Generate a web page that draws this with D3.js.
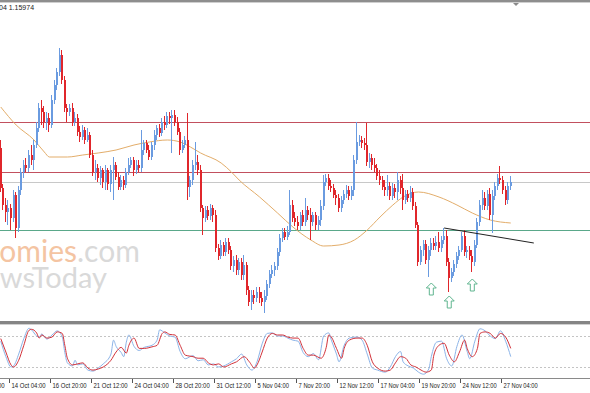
<!DOCTYPE html>
<html>
<head>
<meta charset="utf-8">
<script src="https://cdn.jsdelivr.net/npm/d3@7/dist/d3.min.js"></script>
<style>
  body { margin: 0; background: #fff; }
  svg { display: block; }
</style>
</head>
<body>
<svg id="chart" width="590" height="393"></svg>
<script>
// H4 candles, oldest first
var opens = [
1.1631,1.1591,1.1574,1.1567,1.1571,1.1561,1.1584,1.1551,1.1589,1.1607,
1.1614,1.1611,1.1624,1.1619,1.1634,1.1651,1.1671,1.1667,1.1657,1.1661,
1.1654,1.1679,1.1694,1.1707,1.1724,1.1699,1.1671,1.1667,1.1671,1.1657,
1.1661,1.1647,1.1642,1.1649,1.1639,1.1644,1.1624,1.1607,1.1611,1.1601,
1.1609,1.1597,1.1609,1.1595,1.1609,1.1614,1.1602,1.1592,1.1599,1.1594,
1.1607,1.1614,1.1619,1.1609,1.1614,1.1611,1.1629,1.1636,1.1629,1.1622,
1.1634,1.1644,1.1651,1.1646,1.1657,1.1654,1.1663,1.1661,1.1664,1.1657,
1.1647,1.1629,1.1634,1.1639,1.1592,1.1599,1.1614,1.1617,1.1609,1.1571,
1.1561,1.1569,1.1563,1.1571,1.1564,1.1531,1.1523,1.1534,1.1527,1.1537,
1.1529,1.1513,1.1519,1.1509,1.1517,1.1504,1.1514,1.1489,1.1477,1.1484,
1.1481,1.1487,1.1481,1.1477,1.1483,1.1495,1.1505,1.1509,1.1513,1.1527,
1.1541,1.1547,1.1542,1.1547,1.1574,1.1561,1.1557,1.1553,1.1564,1.1557,
1.1569,1.1564,1.1557,1.1564,1.1554,1.1559,1.1573,1.1597,1.1601,1.1593,
1.1591,1.1584,1.1581,1.1571,1.1579,1.1585,1.1589,1.1583,1.1589,1.1619,
1.1637,1.1639,1.1636,1.1634,1.1617,1.1621,1.1614,1.1611,1.1603,1.1599,
1.1592,1.1589,1.1593,1.1583,1.1591,1.1587,1.1599,1.1591,1.1579,1.1585,
1.1581,1.1587,1.1573,1.1554,1.1517,1.1529,1.1535,1.1519,1.1529,1.1536,
1.1533,1.1537,1.1531,1.1539,1.1543,1.1517,1.1501,1.1507,1.1515,1.1523,
1.1529,1.1543,1.1527,1.1529,1.1523,1.1517,1.1534,1.1557,1.1574,1.1581,
1.1573,1.1585,1.1564,1.1583,1.1593,1.1601,1.1599,1.1589,1.1579,1.1593];

var highs = [
1.1639,1.1595,1.1581,1.1579,1.1575,1.1589,1.1587,1.1593,1.1611,1.1619,
1.1621,1.1629,1.1634,1.1639,1.1657,1.1676,1.1679,1.1673,1.1667,1.1666,
1.1684,1.1699,1.1711,1.1731,1.1729,1.1703,1.1675,1.1675,1.1676,1.1667,
1.1665,1.1653,1.1654,1.1652,1.1651,1.1647,1.1629,1.1619,1.1615,1.1613,
1.1611,1.1614,1.1611,1.1614,1.1622,1.1617,1.1607,1.1604,1.1603,1.1611,
1.1621,1.1622,1.1622,1.1619,1.1619,1.1649,1.1639,1.1639,1.1634,1.1637,
1.1649,1.1654,1.1655,1.1661,1.1663,1.1667,1.1667,1.1669,1.1669,1.1662,
1.1651,1.1639,1.1643,1.1666,1.1603,1.1619,1.1637,1.1624,1.1614,1.1574,
1.1573,1.1573,1.1575,1.1574,1.1569,1.1535,1.1539,1.1537,1.1541,1.1541,
1.1533,1.1523,1.1524,1.1521,1.1521,1.1524,1.1517,1.1493,1.1489,1.1489,
1.1492,1.1492,1.1487,1.1489,1.1499,1.1509,1.1514,1.1517,1.1531,1.1545,
1.1551,1.1551,1.1553,1.1589,1.1579,1.1567,1.1563,1.1567,1.1569,1.1581,
1.1573,1.1571,1.1567,1.1567,1.1563,1.1579,1.1604,1.1605,1.1605,1.1599,
1.1595,1.1589,1.1585,1.1583,1.1589,1.1594,1.1593,1.1593,1.1624,1.1657,
1.1644,1.1643,1.1641,1.1656,1.1626,1.1625,1.1621,1.1615,1.1609,1.1603,
1.1599,1.1604,1.1597,1.1596,1.1595,1.1607,1.1603,1.1605,1.1589,1.1589,
1.1593,1.1591,1.1577,1.1557,1.1533,1.1539,1.1539,1.1533,1.1541,1.1541,
1.1543,1.1547,1.1543,1.1551,1.1549,1.1521,1.1511,1.1519,1.1527,1.1533,
1.1547,1.1549,1.1533,1.1533,1.1529,1.1539,1.1561,1.1579,1.1589,1.1587,
1.1589,1.1591,1.1589,1.1597,1.1605,1.1613,1.1603,1.1593,1.1597,1.1603];

var lows = [
1.1587,1.1569,1.1557,1.1554,1.1549,1.1557,1.1541,1.1547,1.1584,1.1601,
1.1607,1.1607,1.1614,1.1609,1.1631,1.1647,1.1654,1.1651,1.1649,1.1647,
1.1651,1.1675,1.1689,1.1703,1.1695,1.1667,1.1657,1.1663,1.1653,1.1653,
1.1643,1.1637,1.1639,1.1635,1.1637,1.1621,1.1603,1.1599,1.1597,1.1594,
1.1591,1.1589,1.1589,1.1587,1.1579,1.1599,1.1589,1.1589,1.1589,1.1591,
1.1604,1.1611,1.1603,1.1605,1.1607,1.1607,1.1624,1.1626,1.1619,1.1619,
1.1629,1.1639,1.1642,1.1643,1.1649,1.1651,1.1655,1.1626,1.1653,1.1644,
1.1624,1.1626,1.1631,1.1579,1.1582,1.1594,1.1609,1.1604,1.1567,1.1544,
1.1557,1.1559,1.1559,1.1557,1.1527,1.1519,1.1520,1.1523,1.1523,1.1525,
1.1509,1.1507,1.1504,1.1504,1.1499,1.1499,1.1484,1.1473,1.1469,1.1475,
1.1477,1.1476,1.1473,1.1466,1.1479,1.1491,1.1501,1.1503,1.1509,1.1523,
1.1537,1.1539,1.1539,1.1544,1.1557,1.1553,1.1549,1.1549,1.1553,1.1553,
1.1559,1.1539,1.1553,1.1549,1.1549,1.1553,1.1569,1.1593,1.1589,1.1587,
1.1581,1.1574,1.1567,1.1567,1.1575,1.1581,1.1579,1.1579,1.1583,1.1615,
1.1633,1.1631,1.1629,1.1613,1.1611,1.1609,1.1607,1.1599,1.1594,1.1589,
1.1583,1.1583,1.1579,1.1579,1.1581,1.1579,1.1585,1.1569,1.1575,1.1577,
1.1577,1.1569,1.1551,1.1513,1.1514,1.1523,1.1515,1.1502,1.1523,1.1529,
1.1529,1.1527,1.1527,1.1535,1.1513,1.1487,1.1497,1.1503,1.1511,1.1519,
1.1527,1.1523,1.1521,1.1519,1.1507,1.1513,1.1531,1.1553,1.1569,1.1569,
1.1569,1.1559,1.1546,1.1579,1.1589,1.1595,1.1585,1.1574,1.1575,1.1589];

var closes = [
1.1591,1.1574,1.1567,1.1571,1.1561,1.1584,1.1551,1.1589,1.1607,1.1614,
1.1611,1.1624,1.1619,1.1634,1.1651,1.1671,1.1667,1.1657,1.1661,1.1654,
1.1679,1.1694,1.1707,1.1724,1.1699,1.1671,1.1667,1.1671,1.1657,1.1661,
1.1647,1.1642,1.1649,1.1639,1.1644,1.1624,1.1607,1.1611,1.1601,1.1609,
1.1597,1.1609,1.1595,1.1609,1.1614,1.1602,1.1592,1.1599,1.1594,1.1607,
1.1614,1.1619,1.1609,1.1614,1.1611,1.1629,1.1636,1.1629,1.1622,1.1634,
1.1644,1.1651,1.1646,1.1657,1.1654,1.1663,1.1661,1.1664,1.1657,1.1647,
1.1629,1.1634,1.1639,1.1592,1.1599,1.1614,1.1617,1.1609,1.1571,1.1561,
1.1569,1.1563,1.1571,1.1564,1.1531,1.1523,1.1534,1.1527,1.1537,1.1529,
1.1513,1.1519,1.1509,1.1517,1.1504,1.1514,1.1489,1.1477,1.1484,1.1481,
1.1487,1.1481,1.1477,1.1483,1.1495,1.1505,1.1509,1.1513,1.1527,1.1541,
1.1547,1.1542,1.1547,1.1574,1.1561,1.1557,1.1553,1.1564,1.1557,1.1569,
1.1564,1.1557,1.1564,1.1554,1.1559,1.1573,1.1597,1.1601,1.1593,1.1591,
1.1584,1.1581,1.1571,1.1579,1.1585,1.1589,1.1583,1.1589,1.1619,1.1637,
1.1639,1.1636,1.1634,1.1617,1.1621,1.1614,1.1611,1.1603,1.1599,1.1592,
1.1589,1.1593,1.1583,1.1591,1.1587,1.1599,1.1591,1.1579,1.1585,1.1581,
1.1587,1.1573,1.1554,1.1517,1.1529,1.1535,1.1519,1.1529,1.1536,1.1533,
1.1537,1.1531,1.1539,1.1543,1.1517,1.1501,1.1507,1.1515,1.1523,1.1529,
1.1543,1.1527,1.1529,1.1523,1.1517,1.1534,1.1557,1.1574,1.1581,1.1573,
1.1585,1.1564,1.1583,1.1593,1.1601,1.1599,1.1589,1.1579,1.1593,1.1597];

// moving average: [bar, price]
var maPoints = [[0,1.1672],[6,1.1654],[13,1.1639],[17,1.1627],[19,1.1622],[26,1.1622],
  [32,1.1624],[38,1.1626],[45,1.1629],[52,1.1634],[58,1.1637],[65,1.1639],[70,1.1637],
  [74,1.1632],[78,1.1626],[86,1.1616],[90,1.1607],[93,1.1599],[101,1.1582],[108,1.1566],
  [114,1.1552],[121,1.1539],[126,1.1533],[132,1.1534],[138,1.1539],[143,1.1549],[148,1.1562],
  [153,1.1574],[157,1.1582],[163,1.1587],[171,1.1582],[178,1.1574],[184,1.1566],[191,1.1559],[199,1.1556]];

// stochastic oscillator: [bar, value]
var stochMain = [[0,70],[2,40],[4,20],[5,22],[7,45],[9,75],[11,95],[12,92],[14,80],[15,78],
  [16,84],[18,74],[20,82],[22,90],[24,78],[25,48],[26,28],[28,22],[29,33],[30,24],[32,26],
  [34,14],[36,12],[38,18],[40,26],[43,45],[44,72],[45,60],[47,48],[48,40],[49,68],[50,82],
  [52,60],[54,52],[56,58],[59,62],[61,72],[62,92],[64,86],[66,80],[68,78],[70,50],[72,36],
  [75,42],[77,32],[79,34],[81,24],[83,26],[85,20],[87,22],[90,30],[92,36],[94,45],[96,24],
  [98,14],[100,30],[102,65],[104,85],[106,86],[108,80],[110,80],[112,76],[114,72],[116,70],
  [118,48],[120,40],[122,46],[124,34],[126,80],[128,86],[129,72],[131,45],[132,30],[134,62],
  [136,76],[139,78],[141,72],[143,45],[145,18],[147,14],[150,10],[152,20],[154,40],[156,50],
  [157,30],[159,22],[161,18],[163,10],[165,6],[167,16],[168,40],[170,68],[172,70],[174,36],
  [176,22],[178,60],[180,82],[182,50],[183,36],[185,70],[187,94],[189,90],[191,80],[193,75],
  [195,90],[197,70],[199,40]];
var stochSignal = [[0,75],[2,49],[4,24],[5,20],[7,33],[9,62],[11,91],[12,93],[14,86],[15,76],
  [16,82],[18,76],[20,78],[22,88],[24,85],[25,62],[26,37],[28,24],[30,26],[32,28],[34,18],
  [36,14],[38,16],[40,20],[43,33],[45,49],[47,58],[49,47],[50,62],[52,76],[54,56],[56,56],
  [59,59],[61,62],[63,85],[64,88],[66,83],[68,82],[70,62],[72,43],[75,40],[77,37],[79,37],
  [81,28],[83,24],[85,26],[87,20],[90,26],[92,30],[95,40],[97,30],[99,18],[100,24],[102,49],
  [104,76],[106,85],[108,82],[110,82],[112,78],[114,76],[116,76],[118,56],[120,43],[122,43],
  [125,37],[127,58],[128,82],[129,78],[131,56],[133,37],[134,56],[136,72],[139,76],[141,76],
  [143,62],[145,30],[147,18],[150,12],[152,14],[154,28],[156,40],[158,37],[160,24],[162,20],
  [164,14],[166,10],[168,14],[169,43],[171,62],[173,66],[175,43],[177,30],[179,49],[181,72],
  [182,56],[184,40],[186,56],[187,85],[189,88],[191,85],[193,76],[195,85],[197,78],[199,56]];

var levels = [1.1657, 1.1607];   // red horizontal lines
var bidPrice = 1.1597;
var supportLevel = 1.1549;
var trendLine = [[173, 1.1551], [208, 1.1536]];
var arrowPoints = [[168, 1.1490], [175, 1.1477], [184, 1.1494]];

var tickBars = [-12, 4, 20, 36, 52, 68, 84, 100, 116, 132, 148, 164, 180, 196];
var tickLabels = ["11 Oct 12:00", "14 Oct 04:00", "16 Oct 20:00", "21 Oct 12:00", "24 Oct 04:00",
  "28 Oct 20:00", "31 Oct 12:00", "5 Nov 04:00", "7 Nov 20:00", "12 Nov 12:00",
  "17 Nov 04:00", "19 Nov 20:00", "24 Nov 12:00", "27 Nov 04:00"];

var svg = d3.select("#chart");
var W = 590;

var x = d3.scaleLinear().domain([0, 199]).range([0.75, 510.75]);
var y = d3.scaleLinear().domain([1.1461, 1.1776]).range([318, 3]);
var ys = d3.scaleLinear().domain([0, 100]).range([377.3, 325.7]);

svg.append("rect").attr("width", W).attr("height", 393).attr("fill", "#fff");

// top frame
svg.append("rect").attr("x", 0).attr("y", 0).attr("width", W).attr("height", 2).attr("fill", "#8e8e8e");
svg.append("line").attr("x1", 0).attr("x2", W).attr("y1", 2.5).attr("y2", 2.5).attr("stroke", "#cfcfcf");
svg.append("path").attr("d", "M513,3L519,3L516,6Z").attr("fill", "#8a8a8a");

svg.append("text")
    .attr("x", -1).attr("y", 9.5)
    .attr("font-family", "Liberation Sans, Arial, sans-serif")
    .attr("font-size", "7px")
    .attr("fill", "#222")
    .text("04 1.15974");

// watermark (cut by the left edge, as in the screenshot)
var wm = svg.append("g").attr("font-family", "Lato, 'Open Sans', sans-serif");
wm.append("text").attr("x", 77).attr("y", 262).attr("font-size", "30px")
    .style("text-anchor", "end").attr("fill", "#f4c4a2").text("economies");
wm.append("text").attr("x", 77).attr("y", 262).attr("font-size", "30px")
    .attr("fill", "#d9d9d9").text(".com");
wm.append("text").attr("x", 107).attr("y", 288).attr("font-size", "29px")
    .style("text-anchor", "end").attr("fill", "#d9d9d9").text("NewsToday");

// horizontal levels
var main = svg.append("g");
main.selectAll(".lvl").data(levels).enter().append("line")
    .attr("x1", 0).attr("x2", W)
    .attr("y1", d => Math.round(y(d)) + 0.5).attr("y2", d => Math.round(y(d)) + 0.5)
    .attr("stroke", "#c2505e").attr("stroke-width", 1);
main.append("line")
    .attr("x1", 0).attr("x2", W)
    .attr("y1", Math.round(y(bidPrice)) + 0.5).attr("y2", Math.round(y(bidPrice)) + 0.5)
    .attr("stroke", "#c8c8c8");
main.append("line")
    .attr("x1", 0).attr("x2", W)
    .attr("y1", Math.round(y(supportLevel)) + 0.5).attr("y2", Math.round(y(supportLevel)) + 0.5)
    .attr("stroke", "#5aa88a");

// moving average
main.append("path")
    .datum(maPoints)
    .attr("fill", "none")
    .attr("stroke", "#e3ad6a")
    .attr("stroke-width", 1)
    .attr("d", d3.line().x(d => x(d[0])).y(d => y(d[1])).curve(d3.curveMonotoneX));

// candles
var candles = d3.range(closes.length).map(i => ({
  i: i, o: opens[i], h: highs[i], l: lows[i], c: closes[i]
}));
var col = d => d.c >= d.o ? "#6a9be0" : "#e0262b";

var cg = main.selectAll(".candle").data(candles).enter().append("g").classed("candle", true);
cg.append("line")
    .attr("x1", d => Math.round(x(d.i)) - 0.5).attr("x2", d => Math.round(x(d.i)) - 0.5)
    .attr("y1", d => y(d.h)).attr("y2", d => y(d.l))
    .attr("stroke", col).attr("stroke-width", 1);
cg.append("rect")
    .attr("x", d => Math.round(x(d.i)) - 1)
    .attr("width", 2)
    .attr("y", d => y(Math.max(d.o, d.c)))
    .attr("height", d => Math.max(1, Math.abs(y(d.o) - y(d.c))))
    .attr("fill", col);

// trend line
main.append("line")
    .attr("x1", x(trendLine[0][0])).attr("y1", y(trendLine[0][1]))
    .attr("x2", x(trendLine[1][0])).attr("y2", y(trendLine[1][1]))
    .attr("stroke", "#222").attr("stroke-width", 1);

// up arrows
main.selectAll(".arrow").data(arrowPoints).enter().append("path")
    .attr("transform", d => "translate(" + x(d[0]) + "," + y(d[1]) + ")")
    .attr("d", "M0,-6L5,-1L2,-1L2,6L-2,6L-2,-1L-5,-1Z")
    .attr("fill", "#fff").attr("stroke", "#5fb58f").attr("stroke-width", 1);

// indicator window
svg.append("rect").attr("x", 0).attr("y", 321).attr("width", W).attr("height", 3).attr("fill", "#858585");
svg.append("line").attr("x1", 0).attr("x2", W).attr("y1", 324.5).attr("y2", 324.5).attr("stroke", "#d0d0d0");

svg.selectAll(".stlvl").data([20, 80]).enter().append("line")
    .attr("x1", 0).attr("x2", W)
    .attr("y1", d => Math.round(ys(d)) + 0.5).attr("y2", d => Math.round(ys(d)) + 0.5)
    .attr("stroke", "#c4c4c4").attr("stroke-dasharray", "2,2");

var sline = d3.line().x(d => x(d[0])).y(d => ys(d[1])).curve(d3.curveMonotoneX);
svg.append("path").datum(stochMain)
    .attr("fill", "none").attr("stroke", "#8cb4e8").attr("stroke-width", 1)
    .attr("d", sline);
svg.append("path").datum(stochSignal)
    .attr("fill", "none").attr("stroke", "#d2323a").attr("stroke-width", 1)
    .attr("d", sline);

svg.append("line").attr("x1", 0).attr("x2", W).attr("y1", 378.5).attr("y2", 378.5).attr("stroke", "#8a8a8a");

// time axis
var ax = svg.append("g");
ax.selectAll(".tick").data(tickBars).enter().append("line")
    .attr("x1", d => Math.round(x(d)) - 1.5).attr("x2", d => Math.round(x(d)) - 1.5)
    .attr("y1", 379).attr("y2", 383)
    .attr("stroke", "#555");
ax.selectAll(".lbl").data(tickBars).enter().append("text")
    .attr("x", d => x(d) + 0.5)
    .attr("y", 388)
    .attr("font-family", "Liberation Sans, Arial, sans-serif")
    .attr("font-size", "7px")
    .attr("fill", "#222")
    .attr("textLength", (d, i) => tickLabels[i].length * 2.85)
    .attr("lengthAdjust", "spacingAndGlyphs")
    .text((d, i) => tickLabels[i]);
</script>
</body>
</html>
